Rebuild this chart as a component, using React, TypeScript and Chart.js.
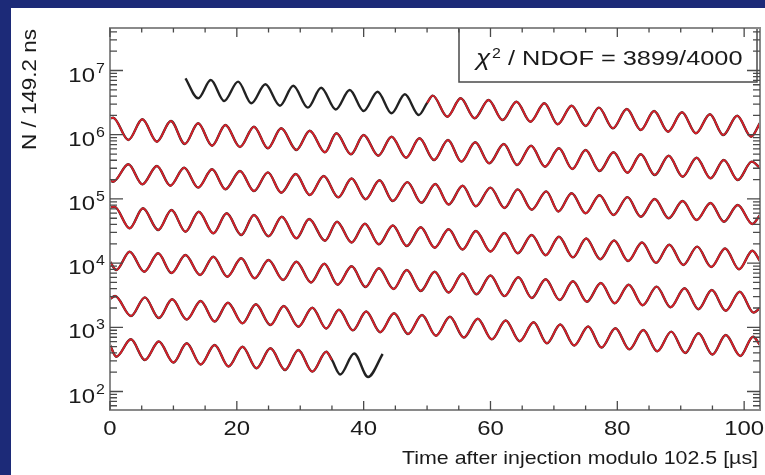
import React, { useEffect, useRef } from 'react';
import { Chart, registerables } from 'chart.js';

Chart.register(...registerables);

// ---- axis ranges / ticks ----
const X_MIN = 0;
const X_MAX = 102.5;
const LOG_Y_MIN = 1.712; // log10 of N at bottom of the frame
const LOG_Y_MAX = 7.662; // log10 of N at top of the frame
const X_TICK_LABELS = [0, 20, 40, 60, 80, 100];
const X_MINOR_STEP = 5;
const Y_LABEL_EXPONENTS = [2, 3, 4, 5, 6, 7];

const X_TITLE = 'Time after injection modulo 102.5 [\u00b5s]';
const Y_TITLE = 'N / 149.2 ns';
const FIT_TEXT = '/ NDOF = 3899/4000';

// ---- data: time (µs, modulo 102.5) and log10(N) at extremes of the wiggle, one row per 102.5 µs ----
const ROW1_T = [11.9, 13.9, 15.9, 18.0, 20.2, 22.3, 24.5, 26.8, 28.9, 31.2, 33.3, 35.6, 37.8, 40.0, 42.2, 44.4, 46.5, 48.7, 50.0, 50.9, 53.2, 55.3, 57.5, 59.7, 61.9, 64.1, 66.3, 68.5, 70.6, 72.8, 75.0, 77.1, 79.3, 81.5, 83.7, 85.8, 88.0, 90.2, 92.4, 94.6, 96.7, 98.9, 101.1, 102.5];
const ROW1_LOGN = [6.878, 6.567, 6.852, 6.525, 6.826, 6.489, 6.785, 6.452, 6.763, 6.421, 6.732, 6.393, 6.696, 6.369, 6.670, 6.333, 6.629, 6.307, 6.494, 6.608, 6.280, 6.567, 6.256, 6.541, 6.229, 6.514, 6.202, 6.489, 6.162, 6.452, 6.136, 6.421, 6.100, 6.400, 6.073, 6.369, 6.047, 6.349, 6.022, 6.318, 5.995, 6.296, 5.969, 6.182];

const ROW2_T = [0, 0.5, 2.9, 5.1, 7.4, 9.6, 11.8, 13.9, 16.1, 18.2, 20.5, 22.7, 24.9, 27.0, 29.4, 31.5, 33.9, 35.7, 38.0, 40.0, 42.3, 44.4, 46.7, 48.8, 51.1, 53.3, 55.4, 57.6, 59.8, 62.1, 64.2, 66.4, 68.6, 70.8, 72.9, 75.0, 77.2, 79.4, 81.6, 83.7, 85.9, 88.1, 90.3, 92.5, 94.7, 96.8, 99.0, 101.2, 102.5];
const ROW2_LOGN = [6.252, 6.265, 5.918, 6.240, 5.891, 6.213, 5.855, 6.178, 5.829, 6.151, 5.808, 6.125, 5.788, 6.100, 5.762, 6.062, 5.726, 6.022, 5.695, 5.995, 5.673, 5.969, 5.642, 5.944, 5.606, 5.918, 5.580, 5.882, 5.555, 5.855, 5.528, 5.829, 5.502, 5.788, 5.466, 5.762, 5.435, 5.726, 5.408, 5.695, 5.372, 5.673, 5.346, 5.642, 5.321, 5.606, 5.294, 5.580, 5.481];

const ROW3_T = [0, 0.5, 2.9, 5.1, 7.4, 9.5, 11.7, 13.9, 16.1, 18.2, 20.5, 22.7, 24.9, 27.0, 29.3, 31.5, 33.7, 36.0, 38.1, 40.3, 42.5, 44.6, 46.9, 49.1, 51.3, 53.4, 55.6, 57.7, 60.0, 62.2, 64.3, 66.5, 68.8, 70.7, 72.8, 75.0, 77.2, 79.4, 81.6, 83.7, 85.9, 88.1, 90.3, 92.5, 94.7, 96.8, 99.0, 101.3, 102.5];
const ROW3_LOGN = [5.287, 5.268, 5.539, 5.227, 5.512, 5.206, 5.486, 5.175, 5.461, 5.150, 5.435, 5.123, 5.414, 5.097, 5.388, 5.061, 5.357, 5.025, 5.318, 4.995, 5.290, 4.967, 5.262, 4.941, 5.232, 4.913, 5.204, 4.886, 5.176, 4.858, 5.148, 4.832, 5.118, 4.804, 5.089, 4.776, 5.058, 4.749, 5.028, 4.723, 4.999, 4.698, 4.967, 4.671, 4.936, 4.645, 4.905, 4.609, 4.749];

const ROW4_T = [0, 0.7, 3.1, 5.2, 7.6, 9.7, 11.9, 14.0, 16.3, 18.4, 20.7, 22.7, 25.0, 27.1, 29.4, 31.4, 33.9, 35.8, 38.1, 40.2, 42.4, 44.6, 46.8, 49.0, 51.2, 53.4, 55.6, 57.7, 60.0, 62.2, 64.3, 66.5, 68.7, 70.8, 73.0, 75.1, 77.3, 79.5, 81.7, 83.9, 86.1, 88.2, 90.4, 92.6, 94.8, 97.0, 99.2, 101.3, 102.5];
const ROW4_LOGN = [4.866, 4.879, 4.542, 4.854, 4.516, 4.827, 4.489, 4.801, 4.464, 4.776, 4.438, 4.749, 4.418, 4.723, 4.386, 4.687, 4.349, 4.645, 4.321, 4.614, 4.293, 4.586, 4.266, 4.558, 4.240, 4.527, 4.212, 4.500, 4.181, 4.469, 4.153, 4.438, 4.123, 4.411, 4.090, 4.383, 4.061, 4.352, 4.033, 4.321, 4.003, 4.287, 3.971, 4.256, 3.939, 4.228, 3.904, 4.193, 4.033];

const ROW5_T = [0, 1.0, 3.1, 5.4, 7.6, 9.7, 11.9, 14.2, 16.3, 18.5, 20.7, 22.8, 25.0, 27.3, 29.4, 31.7, 33.8, 35.9, 38.1, 40.3, 42.4, 44.7, 46.8, 49.0, 51.2, 53.4, 55.6, 57.8, 60.0, 62.2, 64.4, 66.5, 68.7, 70.9, 73.0, 75.2, 77.4, 79.6, 81.8, 84.0, 86.2, 88.4, 90.6, 92.8, 94.9, 97.1, 99.3, 101.5, 102.5];
const ROW5_LOGN = [4.022, 3.893, 4.178, 3.866, 4.153, 3.846, 4.126, 3.815, 4.100, 3.788, 4.075, 3.763, 4.048, 3.737, 4.022, 3.698, 3.991, 3.664, 3.950, 3.628, 3.921, 3.597, 3.893, 3.566, 3.865, 3.542, 3.837, 3.514, 3.807, 3.485, 3.779, 3.457, 3.749, 3.425, 3.717, 3.399, 3.690, 3.374, 3.662, 3.344, 3.634, 3.312, 3.608, 3.282, 3.581, 3.257, 3.555, 3.228, 3.301];

const ROW6_T = [0, 0.8, 3.3, 5.5, 7.7, 9.8, 12.1, 14.3, 16.5, 18.6, 20.9, 23.0, 25.3, 27.4, 29.7, 31.9, 34.1, 36.1, 38.3, 40.4, 42.6, 44.8, 47.0, 49.2, 51.4, 53.6, 55.8, 58.0, 60.2, 62.4, 64.6, 66.8, 68.9, 71.0, 73.2, 75.4, 77.5, 79.7, 81.9, 84.1, 86.3, 88.5, 90.7, 92.8, 95.0, 97.1, 99.4, 101.4, 102.5];
const ROW6_LOGN = [3.441, 3.488, 3.176, 3.467, 3.145, 3.436, 3.120, 3.410, 3.090, 3.383, 3.062, 3.358, 3.036, 3.332, 3.009, 3.305, 2.981, 3.274, 2.953, 3.246, 2.924, 3.218, 2.896, 3.192, 2.868, 3.164, 2.841, 3.134, 2.813, 3.106, 2.784, 3.078, 2.751, 3.044, 2.717, 3.013, 2.685, 2.985, 2.657, 2.958, 2.626, 2.932, 2.600, 2.907, 2.576, 2.880, 2.553, 2.854, 2.724];

const ROW7_T = [0, 1.0, 3.3, 5.5, 7.7, 10.0, 12.1, 14.3, 16.5, 18.7, 20.9, 23.1, 25.3, 27.6, 29.7, 31.9, 34.1, 35.0, 36.3, 38.5, 40.7, 43.0];
const ROW7_LOGN = [2.724, 2.542, 2.813, 2.491, 2.779, 2.452, 2.751, 2.421, 2.724, 2.390, 2.698, 2.362, 2.673, 2.335, 2.647, 2.309, 2.620, 2.491, 2.265, 2.592, 2.226, 2.584];

// fit range (red curve) in the first and last rows
const FIT_START_ROW1 = 50.0;
const FIT_END_ROW7 = 35.0;

const ROWS = [
  { t: ROW1_T, logN: ROW1_LOGN, fitFrom: FIT_START_ROW1, fitTo: X_MAX },
  { t: ROW2_T, logN: ROW2_LOGN, fitFrom: X_MIN, fitTo: X_MAX },
  { t: ROW3_T, logN: ROW3_LOGN, fitFrom: X_MIN, fitTo: X_MAX },
  { t: ROW4_T, logN: ROW4_LOGN, fitFrom: X_MIN, fitTo: X_MAX },
  { t: ROW5_T, logN: ROW5_LOGN, fitFrom: X_MIN, fitTo: X_MAX },
  { t: ROW6_T, logN: ROW6_LOGN, fitFrom: X_MIN, fitTo: X_MAX },
  { t: ROW7_T, logN: ROW7_LOGN, fitFrom: X_MIN, fitTo: FIT_END_ROW7 },
];

const FONT = '"Liberation Sans", Arial, Helvetica, sans-serif';
const SX = 1.14;

function text(ctx: CanvasRenderingContext2D, s: string, x: number, y: number, size: number, align: CanvasTextAlign, sx: number) {
  ctx.save();
  ctx.font = `${size}px ${FONT}`;
  ctx.translate(x, y);
  ctx.scale(sx, 1);
  ctx.textAlign = align;
  ctx.textBaseline = 'alphabetic';
  ctx.fillStyle = '#1a1a1a';
  ctx.fillText(s, 0, 0);
  ctx.restore();
}

function fitScale(ctx: CanvasRenderingContext2D, s: string, size: number, width: number) {
  ctx.save();
  ctx.font = `${size}px ${FONT}`;
  const w = ctx.measureText(s).width;
  ctx.restore();
  return width / w;
}

const decor = {
  id: 'decor',
  beforeDraw(chart: any) {
    const { ctx, width, height } = chart;
    ctx.save();
    ctx.fillStyle = '#1c2a78';
    ctx.fillRect(0, 0, width, height);
    ctx.fillStyle = '#ffffff';
    ctx.fillRect(11, 8, width - 11, height - 8);
    ctx.restore();
  },
  afterDatasetsDraw(chart: any) {
    const { ctx, chartArea } = chart;
    const xs = chart.scales.x;
    const ys = chart.scales.y;
    const { left, right, top, bottom } = chartArea;

    // fit box
    ctx.save();
    ctx.fillStyle = '#ffffff';
    ctx.fillRect(459, top, 298, 54);
    ctx.strokeStyle = '#4a4a4a';
    ctx.lineWidth = 1.5;
    ctx.strokeRect(459, top, 298, 54);
    ctx.restore();

    // frame
    ctx.save();
    ctx.strokeStyle = '#8a8a8a';
    ctx.lineWidth = 2;
    ctx.strokeRect(left, top, right - left, bottom - top);
    ctx.restore();

    // ticks
    ctx.save();
    ctx.strokeStyle = '#4a4a4a';
    ctx.lineWidth = 1.3;
    ctx.beginPath();
    for (let v = X_MIN; v <= X_MAX; v += X_MINOR_STEP) {
      const px = xs.getPixelForValue(v);
      const len = v % 20 === 0 ? 9 : 4.5;
      ctx.moveTo(px, bottom);
      ctx.lineTo(px, bottom - len);
      ctx.moveTo(px, top);
      ctx.lineTo(px, top + len);
    }
    for (let n = Math.floor(LOG_Y_MIN); n <= Math.ceil(LOG_Y_MAX); n++) {
      for (let m = 1; m <= 9; m++) {
        const lv = n + Math.log10(m);
        if (lv < LOG_Y_MIN || lv > LOG_Y_MAX) continue;
        const py = ys.getPixelForValue(m * Math.pow(10, n));
        const len = m === 1 ? 13 : 7;
        ctx.moveTo(left, py);
        ctx.lineTo(left + len, py);
        ctx.moveTo(right, py);
        ctx.lineTo(right - len, py);
      }
    }
    ctx.stroke();
    ctx.restore();

    // x tick labels
    X_TICK_LABELS.forEach((v) => {
      text(ctx, String(v), xs.getPixelForValue(v), 435, 21, 'center', SX);
    });
    // y tick labels 10^n
    Y_LABEL_EXPONENTS.forEach((n) => {
      const py = ys.getPixelForValue(Math.pow(10, n));
      text(ctx, '10', 95, py + 11, 21, 'right', SX);
      text(ctx, String(n), 96, py + 2, 14, 'left', SX);
    });

    // axis titles
    const sxX = fitScale(ctx, X_TITLE, 19, 356);
    text(ctx, X_TITLE, 758, 463.5, 19, 'right', sxX);

    ctx.save();
    ctx.translate(36, 29);
    ctx.rotate(-Math.PI / 2);
    const sxY = fitScale(ctx, Y_TITLE, 20, 121);
    text(ctx, Y_TITLE, 0, 0, 20, 'right', sxY);
    ctx.restore();

    // fit box text
    ctx.save();
    ctx.font = `italic 23px ${FONT}`;
    ctx.fillStyle = '#1a1a1a';
    ctx.textBaseline = 'alphabetic';
    ctx.translate(476, 65);
    ctx.scale(SX, 1);
    ctx.fillText('\u03c7', 0, 0);
    ctx.restore();
    text(ctx, '2', 492, 58, 14, 'left', SX);
    const sxF = fitScale(ctx, FIT_TEXT, 21, 234.5);
    text(ctx, FIT_TEXT, 508, 65, 21, 'left', sxF);
  },
};

export default function App() {
  const ref = useRef<HTMLCanvasElement | null>(null);

  useEffect(() => {
    if (!ref.current) return;
    const datasets: any[] = [];
    ROWS.forEach((row, r) => {
      const pts = row.t.map((t, i) => ({ x: t, y: Math.pow(10, row.logN[i]) }));
      const fitPts = pts.filter((p) => p.x >= row.fitFrom && p.x <= row.fitTo);
      datasets.push({
        label: `data ${r + 1}`,
        data: pts,
        borderColor: '#222222',
        borderWidth: 2.4,
        pointRadius: 0,
        fill: false,
        cubicInterpolationMode: 'monotone',
        order: 2,
      });
      datasets.push({
        label: `fit ${r + 1}`,
        data: fitPts,
        borderColor: '#d42029',
        borderWidth: 1.9,
        pointRadius: 0,
        fill: false,
        cubicInterpolationMode: 'monotone',
        order: 1,
      });
    });

    const chart = new Chart(ref.current, {
      type: 'line',
      data: { datasets },
      options: {
        animation: false,
        responsive: false,
        events: [],
        layout: { padding: { left: 110, right: 5, top: 28, bottom: 65 } },
        plugins: { legend: { display: false }, tooltip: { enabled: false } },
        scales: {
          x: { type: 'linear', min: X_MIN, max: X_MAX, display: false },
          y: {
            type: 'logarithmic',
            min: Math.pow(10, LOG_Y_MIN),
            max: Math.pow(10, LOG_Y_MAX),
            display: false,
          },
        },
      },
      plugins: [decor],
    });
    return () => chart.destroy();
  }, []);

  return (
    <div style={{ position: 'fixed', left: 0, top: 0, width: 765, height: 475 }}>
      <canvas ref={ref} width={765} height={475} style={{ display: 'block', width: 765, height: 475 }} />
    </div>
  );
}
